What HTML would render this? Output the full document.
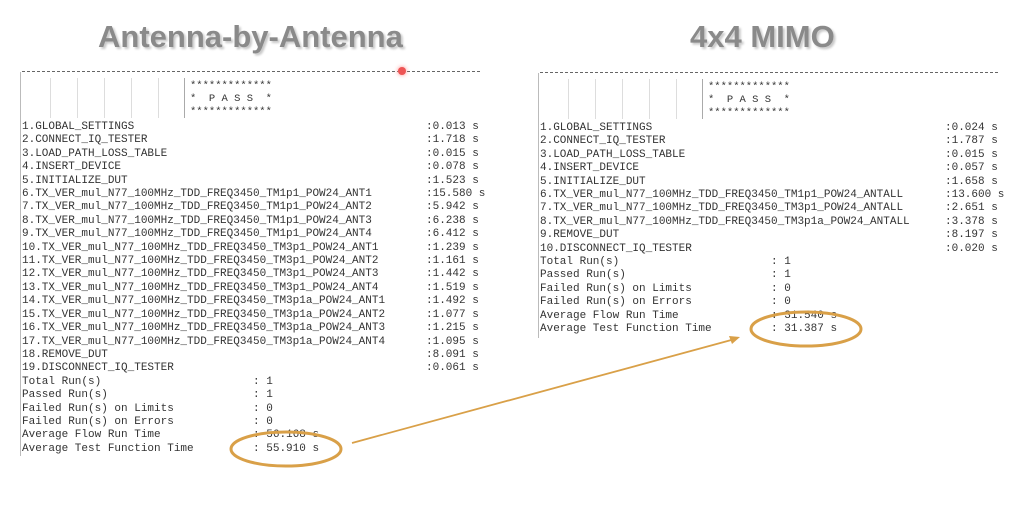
<!DOCTYPE html>
<html><head><style>
body{margin:0;width:1024px;height:516px;background:#fff;position:relative;overflow:hidden;font-family:"Liberation Sans",sans-serif}
.t{position:absolute;font-weight:bold;font-size:31px;color:#8a8a8a;text-shadow:2px 2px 2px #c8c8c8;white-space:nowrap}
pre{position:absolute;margin:0;font-family:"Liberation Mono",monospace;font-size:11px;line-height:13.4px;color:#333;white-space:pre}
.dash{position:absolute;height:0;border-top:1px dashed #666}
.vl{position:absolute;width:1px;background:#ddd}
</style></head><body>
<div class="t" style="left:98px;top:19px">Antenna-by-Antenna</div>
<div class="t" style="left:690px;top:19px">4x4 MIMO</div>

<div class="dash" style="left:22px;top:71px;width:458px"></div>
<div class="dash" style="left:540px;top:72px;width:458px"></div>
<div class="vl" style="left:20px;top:72px;height:384px;background:#bbb"></div>
<div class="vl" style="left:538px;top:73px;height:265px;background:#bbb"></div>
<div class="vl" style="left:50px;top:78px;height:40px"></div>
<div class="vl" style="left:77px;top:78px;height:40px"></div>
<div class="vl" style="left:104px;top:78px;height:40px"></div>
<div class="vl" style="left:131px;top:78px;height:40px"></div>
<div class="vl" style="left:158px;top:78px;height:40px"></div>
<div class="vl" style="left:184px;top:78px;height:40px;background:#aaa"></div>
<div class="vl" style="left:568px;top:79px;height:40px"></div>
<div class="vl" style="left:595px;top:79px;height:40px"></div>
<div class="vl" style="left:622px;top:79px;height:40px"></div>
<div class="vl" style="left:649px;top:79px;height:40px"></div>
<div class="vl" style="left:676px;top:79px;height:40px"></div>
<div class="vl" style="left:702px;top:79px;height:40px;background:#aaa"></div>
<div style="position:absolute;left:398px;top:67px;width:8px;height:8px;border-radius:50%;background:#e55;box-shadow:0 0 4px #f88"></div>

<pre style="left:190px;top:80px;line-height:13px;font-size:10.5px">*************
*  P A S S  *
*************</pre>
<pre style="left:708px;top:81px;line-height:13px;font-size:10.5px">*************
*  P A S S  *
*************</pre>

<pre style="left:22px;top:121px">1.GLOBAL_SETTINGS
2.CONNECT_IQ_TESTER
3.LOAD_PATH_LOSS_TABLE
4.INSERT_DEVICE
5.INITIALIZE_DUT
6.TX_VER_mul_N77_100MHz_TDD_FREQ3450_TM1p1_POW24_ANT1
7.TX_VER_mul_N77_100MHz_TDD_FREQ3450_TM1p1_POW24_ANT2
8.TX_VER_mul_N77_100MHz_TDD_FREQ3450_TM1p1_POW24_ANT3
9.TX_VER_mul_N77_100MHz_TDD_FREQ3450_TM1p1_POW24_ANT4
10.TX_VER_mul_N77_100MHz_TDD_FREQ3450_TM3p1_POW24_ANT1
11.TX_VER_mul_N77_100MHz_TDD_FREQ3450_TM3p1_POW24_ANT2
12.TX_VER_mul_N77_100MHz_TDD_FREQ3450_TM3p1_POW24_ANT3
13.TX_VER_mul_N77_100MHz_TDD_FREQ3450_TM3p1_POW24_ANT4
14.TX_VER_mul_N77_100MHz_TDD_FREQ3450_TM3p1a_POW24_ANT1
15.TX_VER_mul_N77_100MHz_TDD_FREQ3450_TM3p1a_POW24_ANT2
16.TX_VER_mul_N77_100MHz_TDD_FREQ3450_TM3p1a_POW24_ANT3
17.TX_VER_mul_N77_100MHz_TDD_FREQ3450_TM3p1a_POW24_ANT4
18.REMOVE_DUT
19.DISCONNECT_IQ_TESTER
Total Run(s)                       : 1
Passed Run(s)                      : 1
Failed Run(s) on Limits            : 0
Failed Run(s) on Errors            : 0
Average Flow Run Time              : 56.168 s
Average Test Function Time         : 55.910 s</pre>
<pre style="left:426px;top:121px">:0.013 s
:1.718 s
:0.015 s
:0.078 s
:1.523 s
:15.580 s
:5.942 s
:6.238 s
:6.412 s
:1.239 s
:1.161 s
:1.442 s
:1.519 s
:1.492 s
:1.077 s
:1.215 s
:1.095 s
:8.091 s
:0.061 s</pre>

<pre style="left:540px;top:122px">1.GLOBAL_SETTINGS
2.CONNECT_IQ_TESTER
3.LOAD_PATH_LOSS_TABLE
4.INSERT_DEVICE
5.INITIALIZE_DUT
6.TX_VER_mul_N77_100MHz_TDD_FREQ3450_TM1p1_POW24_ANTALL
7.TX_VER_mul_N77_100MHz_TDD_FREQ3450_TM3p1_POW24_ANTALL
8.TX_VER_mul_N77_100MHz_TDD_FREQ3450_TM3p1a_POW24_ANTALL
9.REMOVE_DUT
10.DISCONNECT_IQ_TESTER
Total Run(s)                       : 1
Passed Run(s)                      : 1
Failed Run(s) on Limits            : 0
Failed Run(s) on Errors            : 0
Average Flow Run Time              : 31.540 s
Average Test Function Time         : 31.387 s</pre>
<pre style="left:945px;top:122px">:0.024 s
:1.787 s
:0.015 s
:0.057 s
:1.658 s
:13.600 s
:2.651 s
:3.378 s
:8.197 s
:0.020 s</pre>

<svg style="position:absolute;left:0;top:0" width="1024" height="516">
<ellipse cx="286" cy="449" rx="55" ry="17" fill="none" stroke="#d9a048" stroke-width="3"/>
<ellipse cx="806" cy="329" rx="55" ry="17" fill="none" stroke="#d9a048" stroke-width="3"/>
<line x1="352" y1="443" x2="735" y2="339" stroke="#d9a048" stroke-width="1.8"/>
<polygon points="740,337 729,336 732,344" fill="#d9a048"/>
</svg>
</body></html>
